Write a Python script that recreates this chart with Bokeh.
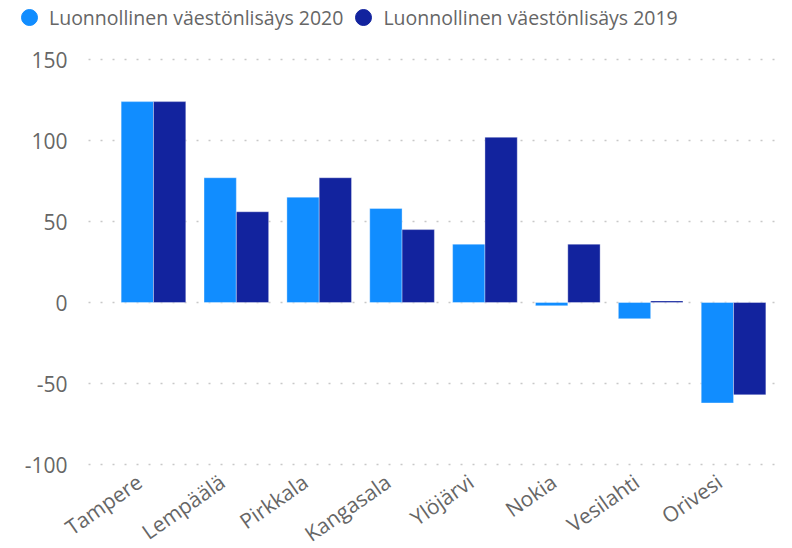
import numpy as np
from bokeh.plotting import figure
from bokeh.models import ColumnDataSource, Range1d, Legend, LegendItem, LabelSet
from bokeh.core.properties import value
from bokeh.embed import file_html
from bokeh.resources import INLINE

categories = ["Tampere", "Lempäälä", "Pirkkala", "Kangasala", "Ylöjärvi", "Nokia", "Vesilahti", "Orivesi"]
v2020 = [124, 77, 65, 58, 36, -2, -10, -62]
v2019 = [124, 56, 77, 45, 102, 36, 1, -57]
y_ticks = [-100, -50, 0, 50, 100, 150]
series_names = ["Luonnollinen väestönlisäys 2020", "Luonnollinen väestönlisäys 2019"]
colors = ["#118DFF", "#12239E"]

# layout constants (axis bounds in data units)
W, H = 784, 546
AXIS_FLOOR = -102
GRID_X0, GRID_X1 = -0.784, 7.7
X_RANGE = (-1.846, 7.615)
Y_RANGE = (-(H - 302) / 1.62, 302 / 1.62)

idx = list(range(len(categories)))
src = ColumnDataSource(dict(idx=idx, x20=[i - 0.195 for i in idx], x19=[i + 0.195 for i in idx],
                            v2020=v2020, v2019=v2019, cat=categories, ybase=[AXIS_FLOOR] * len(idx)))
tsrc = ColumnDataSource(dict(y=y_ticks, x0=[GRID_X0] * len(y_ticks), x1=[GRID_X1] * len(y_ticks),
                             lab=[str(t) for t in y_ticks]))

FONT = "Open Sans"
GREY = "#666666"
p = figure(width=W, height=H, output_backend="svg", toolbar_location=None,
           x_range=Range1d(*X_RANGE), y_range=Range1d(*Y_RANGE),
           x_axis_location=None, y_axis_location=None,
           min_border_left=0, min_border_right=0, min_border_top=0, min_border_bottom=0)
p.outline_line_color = None
p.grid.visible = False

# dotted value gridlines
p.segment(x0="x0", x1="x1", y0="y", y1="y", source=tsrc, line_color="#c8c8c8",
          line_width=1.5, line_dash="2 10")

p.vbar(x="x20", top="v2020", bottom=0, width=0.39, source=src, fill_color=colors[0],
       line_color="#ffffff", line_alpha=0.35, line_width=1)
p.vbar(x="x19", top="v2019", bottom=0, width=0.39, source=src, fill_color=colors[1],
       line_color="#ffffff", line_alpha=0.35, line_width=1)

# value axis labels
ylabels = LabelSet(x="x0", y="y", text="lab", source=tsrc, x_offset=-21,
                   text_align="right", text_baseline="middle",
                   text_font=value(FONT), text_font_size="21px", text_color=GREY)
p.add_layout(ylabels)

# category labels
xlabels = LabelSet(x="idx", y="ybase", text="cat", source=src, angle=0.61,
                   x_offset=-22, y_offset=0, text_align="right", text_baseline="top",
                   text_font=value(FONT), text_font_size="21px", text_color=GREY)
p.add_layout(xlabels)

# legend markers (not drawn in the plot area)
d20 = p.scatter(x=[np.nan], y=[np.nan], marker="circle", size=19, fill_color=colors[0], line_color=colors[0])
d19 = p.scatter(x=[np.nan], y=[np.nan], marker="circle", size=19, fill_color=colors[1], line_color=colors[1])

legend = Legend(items=[LegendItem(label=series_names[0], renderers=[d20], index=0),
                       LegendItem(label=series_names[1], renderers=[d19], index=0)],
                orientation="horizontal", location=(9, H - 37))
legend.label_text_font = FONT
legend.label_text_font_size = "19.5px"
legend.label_text_color = GREY
legend.glyph_width = 40
legend.glyph_height = 40
legend.label_standoff = 0
legend.spacing = 0
legend.padding = 0
legend.margin = 0
legend.border_line_color = None
legend.background_fill_alpha = 0
p.add_layout(legend, "center")

open("out.html", "w").write(file_html(p, INLINE))
